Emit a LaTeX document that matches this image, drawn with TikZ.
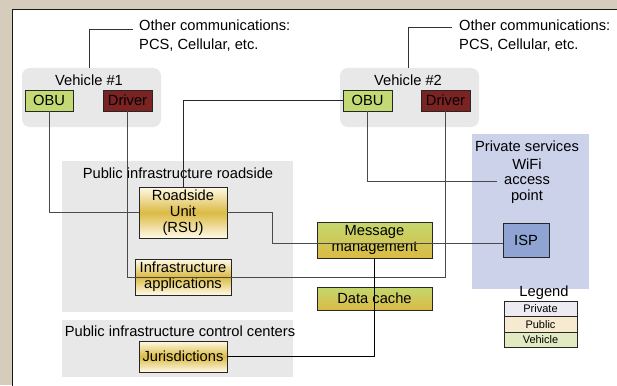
\documentclass[tikz,border=0pt]{standalone}
\usepackage{fontspec}
\setmainfont{Liberation Sans}
\definecolor{bgbeige}{HTML}{D5CCBC}
\definecolor{grpgray}{HTML}{E8E8E8}
\definecolor{obugreen}{HTML}{C3D973}
\definecolor{drivered}{HTML}{7B2323}
\definecolor{goldmid}{HTML}{DBBA44}
\definecolor{goldlight}{HTML}{FFFAE8}
\definecolor{greentop}{HTML}{C3D86F}
\definecolor{privblue}{HTML}{CCD2EA}
\definecolor{ispblue}{HTML}{8FA4D2}
\definecolor{legpriv}{HTML}{ECEBF1}
\definecolor{legpub}{HTML}{F6EBD0}
\definecolor{legveh}{HTML}{E1EAC0}
\definecolor{linegray}{HTML}{4A4A4A}
\tikzset{
  box/.style={draw=black!85, line width=0.8pt, inner sep=0pt, align=center},
  grp/.style={fill=grpgray, draw=none, inner sep=0pt},
  lbl/.style={inner sep=0pt, align=center},
  conn/.style={draw=linegray, line width=1pt},
  pubbox/.style={box, top color=goldlight, bottom color=goldlight, middle color=goldmid},
  mgmtbox/.style={box, top color=greentop, bottom color=goldmid},
  legbox/.style={draw=black!85, line width=0.8pt, minimum width=73pt, minimum height=15.5pt, inner sep=0pt, font=\fontsize{11}{12}\selectfont}
}
\begin{document}
\begin{tikzpicture}[x=1pt,y=-1pt,font=\fontsize{14.7}{16}\selectfont]
\useasboundingbox (0,0) rectangle (617,385);
% background
\fill[bgbeige] (0,0) rectangle (617,385);
\filldraw[fill=white, draw=black!90, line width=1.5pt] (12.5,9.5) rectangle (640,400);

% vehicle groups
\node[grp, rounded corners=8pt, minimum width=139pt, minimum height=59pt] (veh1) at (91.5,97.5) {};
\node[lbl] (veh1lbl) at (89,80) {Vehicle \#1};
\node[box, fill=obugreen, minimum width=48pt, minimum height=21pt] (obu1) at (49,100.5) {OBU};
\node[box, fill=drivered, minimum width=49pt, minimum height=21pt] (drv1) at (127.5,100.5) {Driver};

\node[grp, rounded corners=8pt, minimum width=139pt, minimum height=59pt] (veh2) at (409.5,97.5) {};
\node[lbl] (veh2lbl) at (408,80) {Vehicle \#2};
\node[box, fill=obugreen, minimum width=49pt, minimum height=21pt] (obu2) at (367.5,100.5) {OBU};
\node[box, fill=drivered, minimum width=49pt, minimum height=21pt] (drv2) at (445.5,100.5) {Driver};

% other communications
\node[lbl, anchor=west, align=left, font=\fontsize{14.7}{19}\selectfont] (oc1) at (139,35.5) {Other communications:\\PCS, Cellular, etc.};
\node[lbl, anchor=west, align=left, font=\fontsize{14.7}{19}\selectfont] (oc2) at (459,35.5) {Other communications:\\PCS, Cellular, etc.};
\coordinate (oc1end) at (133,30);
\coordinate (oc2end) at (452,28);

% public infrastructure areas
\node[grp, minimum width=231pt, minimum height=151pt] (roadside) at (177.5,236.5) {};
\node[lbl] (roadsidelbl) at (178,173) {Public infrastructure roadside};
\node[grp, minimum width=231pt, minimum height=57pt] (control) at (177.5,348.5) {};
\node[lbl] (controllbl) at (180,331) {Public infrastructure control centers};

\node[pubbox, minimum width=88pt, minimum height=51pt] (rsu) at (183,212.5) {Roadside\\Unit\\(RSU)};
\node[pubbox, minimum width=96pt, minimum height=36pt] (infra) at (183,277) {Infrastructure\\applications};
\node[pubbox, minimum width=88pt, minimum height=31pt] (jur) at (183,356.5) {Jurisdictions};

% message management / data cache
\node[mgmtbox, minimum width=115pt, minimum height=36pt] (mgmt) at (374.5,240) {Message\\management};
\node[mgmtbox, minimum width=115pt, minimum height=23pt] (cache) at (374.5,298.5) {Data cache};

% private services
\node[draw=none, fill=privblue, minimum width=117pt, minimum height=155pt, inner sep=0pt] (priv) at (530.5,211.5) {};
\node[lbl] (privlbl) at (527,146) {Private services};
\node[lbl, inner xsep=7pt, font=\fontsize{14.7}{15.5}\selectfont] (wifi) at (527,181) {WiFi\\access\\point};
\node[box, fill=ispblue, minimum width=46pt, minimum height=34pt] (isp) at (526,240) {ISP};

% legend
\node[lbl] (legendlbl) at (544,293) {Legend};
\node[legbox, fill=legpriv] (legpriv) at (540.5,309) {Private};
\node[legbox, fill=legpub] (legpub) at (540.5,324.5) {Public};
\node[legbox, fill=legveh] (legveh) at (540.5,340) {Vehicle};

% connectors
\draw[conn, draw=black!80] (veh1lbl |- veh1.north) |- (oc1end);
\draw[conn, draw=black!80] (veh2lbl |- veh2.north) |- (oc2end);
\draw[conn] (obu1.south) |- (rsu.west);
\draw[conn] (drv1.south) -- (drv1.south |- infra.center) -| (drv2.south);
\draw[conn, draw=black!85] (rsu.north) |- (obu2.west);
\draw[conn] (obu2.south) |- (wifi.west);
\draw[conn] (rsu.east) -- (272,212.5) -- (272,243) -- (isp.west |- 0,243);
\draw[conn, draw=black] (mgmt.south) |- (jur.east);
\end{tikzpicture}
\end{document}
